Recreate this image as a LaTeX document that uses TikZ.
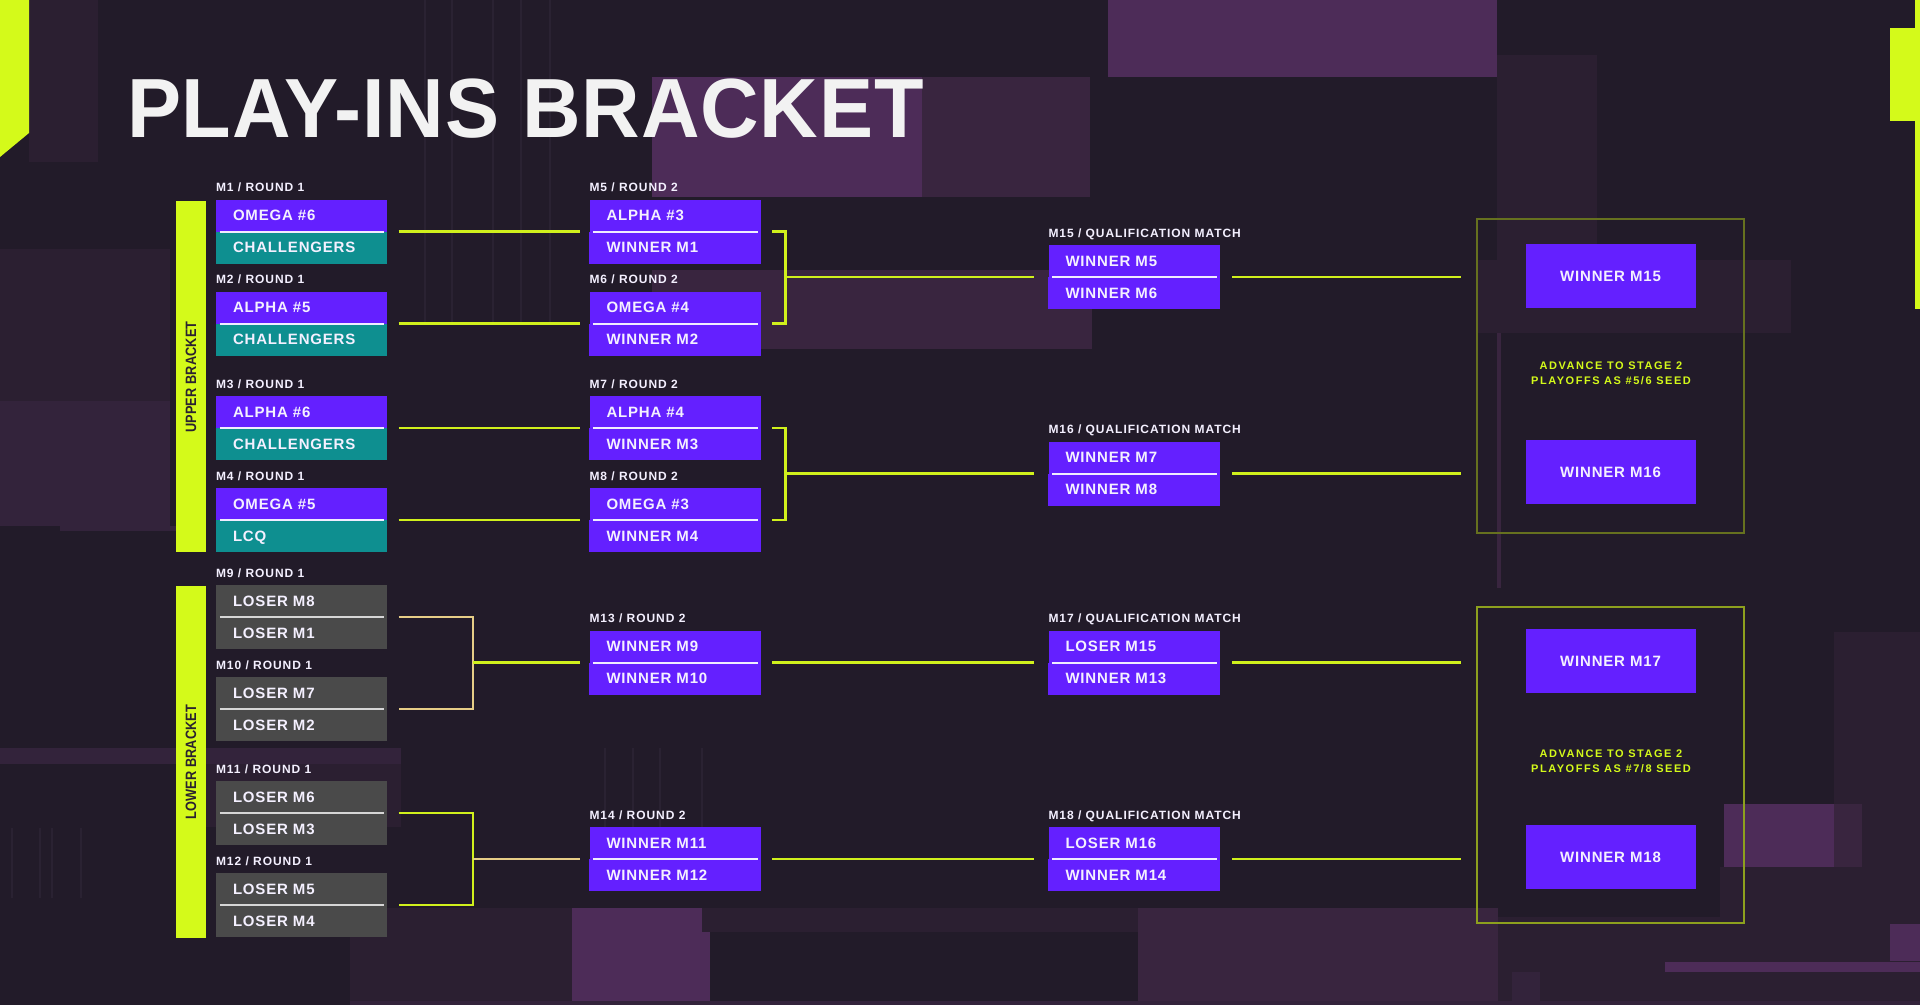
\documentclass[tikz,border=0pt]{standalone}
\usepackage{fontspec}
\setmainfont{Liberation Sans}
\newfontfamily\boxf{Liberation Sans}[LetterSpace=5.5]
\newfontfamily\lblf{Liberation Sans}[LetterSpace=8]
\newfontfamily\advf{Liberation Sans}[LetterSpace=14]
\newfontfamily\titlef{Liberation Sans}[LetterSpace=1]
\definecolor{bgc}{HTML}{221B29}
\definecolor{lime}{HTML}{D4FA1A}
\definecolor{linelime}{HTML}{D0F01C}
\definecolor{beige}{HTML}{E6CD86}
\definecolor{vio}{HTML}{6420FF}
\definecolor{tealb}{HTML}{0E8F90}
\definecolor{grayb}{HTML}{4A4A4A}
\definecolor{olivea}{HTML}{66711F}
\definecolor{oliveb}{HTML}{8DA01E}
\definecolor{pA}{HTML}{4D2C58}
\definecolor{pB}{HTML}{39253F}
\definecolor{pC}{HTML}{2B1F31}
\definecolor{pD}{HTML}{33233B}
\definecolor{pL}{HTML}{2A2232}
\definecolor{txt}{HTML}{F4F0FF}
\definecolor{titlec}{HTML}{F2F2F2}
\definecolor{bartxt}{HTML}{2A2230}
\definecolor{divw}{HTML}{F0ECFF}
\definecolor{divg}{HTML}{D6D6D6}
\tikzset{
  matchbox/.style={rectangle, minimum width=171pt, minimum height=64pt, inner sep=0pt, draw=none},
  finalbox/.style={rectangle, minimum width=170pt, minimum height=64pt, inner sep=0pt, fill=vio, text=txt, font=\boxf\bfseries\fontsize{15}{18}\selectfont},
  boxtext/.style={text=txt, font=\boxf\bfseries\fontsize{15}{18}\selectfont, inner sep=0pt, anchor=base west},
  lbl/.style={text=txt, font=\lblf\bfseries\fontsize{12}{14}\selectfont, inner sep=0pt, anchor=base west},
  advtext/.style={text=lime, font=\advf\bfseries\fontsize{11}{15}\selectfont, align=center, inner sep=0pt},
  conn/.style={line width=2.3pt, draw=linelime, line join=miter},
  connb/.style={line width=2.3pt, draw=beige, line join=miter},
  divline/.style={line width=2pt, line cap=butt},
  stagebox/.style={rectangle, inner sep=0pt, line width=2pt, fill=none},
  barbox/.style={rectangle, inner sep=0pt, fill=lime, minimum width=29.5pt},
  bartext/.style={text=bartxt, font=\titlef\bfseries\fontsize{15}{15}\selectfont, rotate=90, inner sep=0pt},
  faint/.style={line width=1.5pt, draw=pL}
}
\newcommand\matchM[8]{%
  \node[matchbox, fill=#6] (#1) at (#2) {};
  \fill[#7] (#1.west) rectangle (#1.south east);
  \draw[divline, draw=#8] ([xshift=4pt]#1.west) -- ([xshift=-3pt]#1.east);
  \node[lbl] (#1l) at ([yshift=7.5pt]#1.north west) {#3};
  \node[boxtext] (#1a) at ([xshift=17pt,yshift=10.6pt]#1.west) {#4};
  \node[boxtext] (#1b) at ([xshift=17pt,yshift=-21.4pt]#1.west) {#5};
}
\begin{document}
\begin{tikzpicture}[x=1pt,y=-1pt]
\useasboundingbox (0,0) rectangle (1920,1005);
\fill[bgc] (0,0) rectangle (1920,1005);
% background blocks
\fill[pC] (29,0) rectangle (98,162);
\fill[pA] (1108,0) rectangle (1497,77);
\fill[pA] (652,77) rectangle (922,197);
\fill[pB] (922,77) rectangle (1090,197);
\fill[pB] (652,270) rectangle (1092,349);
\fill[pC] (1497,55) rectangle (1597,332);
\fill[pC] (1477,260) rectangle (1791,333);
\fill[pC] (0,249) rectangle (170,401);
\fill[pD] (0,401) rectangle (170,526);
\fill[pD] (60,526) rectangle (176,531);
\fill[pD] (0,748) rectangle (401,764);
\fill[pC] (176,764) rectangle (401,827);
\fill[pC] (350,908) rectangle (572,1005);
\fill[pA] (572,908) rectangle (710,1001);
\fill[pC] (702,908) rectangle (1138,932);
\fill[pB] (1138,908) rectangle (1498,1005);
\fill[pC] (1498,917) rectangle (1920,1005);
\fill[pA] (1665,962) rectangle (1920,972);
\fill[pD] (1512,972) rectangle (1540,1005);
\fill[pD] (350,1001) rectangle (1920,1005);
\fill[pC] (1834,632) rectangle (1920,867);
\fill[pA] (1724,804) rectangle (1834,867);
\fill[pB] (1834,804) rectangle (1862,867);
\fill[pC] (1720,867) rectangle (1920,961);
\fill[pA] (1890,924) rectangle (1920,961);
\fill[pB] (1497,333) rectangle (1501,588);
\foreach \xx in {425,452,493,521,550} \draw[faint] (\xx,0) -- (\xx,323);
\foreach \xx in {605,633,660,702} \draw[faint] (\xx,748) -- (\xx,827);
\foreach \xx in {12,40,52,81} \draw[faint] (\xx,828) -- (\xx,898);
% lime accents
\fill[lime] (0,0) -- (29,0) -- (29,133) -- (0,157) -- cycle;
\fill[lime] (1890,28) rectangle (1920,121);
\fill[lime] (1915,0) rectangle (1920,309);
% title
\node[anchor=base west, inner sep=0pt, text=titlec, font=\titlef\bfseries\fontsize{84}{84}\selectfont] (title) at (127,137) {\scalebox{0.965}[1]{PLAY-INS BRACKET}};
% side bars
\node[barbox, minimum height=351.6pt] (upperbar) at (190.75,376.5) {};
\node[bartext] (upperlbl) at (191,377) {\scalebox{0.85}[1]{UPPER BRACKET}};
\node[barbox, minimum height=352pt] (lowerbar) at (190.75,761.5) {};
\node[bartext] (lowerlbl) at (191,762) {\scalebox{0.85}[1]{LOWER BRACKET}};
% round 1 upper
\matchM{m1}{301.5,231.5}{M1 / ROUND 1}{OMEGA \#6}{CHALLENGERS}{vio}{tealb}{divw}
\matchM{m2}{301.5,323.5}{M2 / ROUND 1}{ALPHA \#5}{CHALLENGERS}{vio}{tealb}{divw}
\matchM{m3}{301.5,427.7}{M3 / ROUND 1}{ALPHA \#6}{CHALLENGERS}{vio}{tealb}{divw}
\matchM{m4}{301.5,519.7}{M4 / ROUND 1}{OMEGA \#5}{LCQ}{vio}{tealb}{divw}
% round 2 upper
\matchM{m5}{675,231.5}{M5 / ROUND 2}{ALPHA \#3}{WINNER M1}{vio}{vio}{divw}
\matchM{m6}{675,323.5}{M6 / ROUND 2}{OMEGA \#4}{WINNER M2}{vio}{vio}{divw}
\matchM{m7}{675,427.7}{M7 / ROUND 2}{ALPHA \#4}{WINNER M3}{vio}{vio}{divw}
\matchM{m8}{675,519.7}{M8 / ROUND 2}{OMEGA \#3}{WINNER M4}{vio}{vio}{divw}
% round 1 lower
\matchM{m9}{301.5,616.7}{M9 / ROUND 1}{LOSER M8}{LOSER M1}{grayb}{grayb}{divg}
\matchM{m10}{301.5,709}{M10 / ROUND 1}{LOSER M7}{LOSER M2}{grayb}{grayb}{divg}
\matchM{m11}{301.5,813}{M11 / ROUND 1}{LOSER M6}{LOSER M3}{grayb}{grayb}{divg}
\matchM{m12}{301.5,905}{M12 / ROUND 1}{LOSER M5}{LOSER M4}{grayb}{grayb}{divg}
% round 2 lower
\matchM{m13}{675,662.5}{M13 / ROUND 2}{WINNER M9}{WINNER M10}{vio}{vio}{divw}
\matchM{m14}{675,859}{M14 / ROUND 2}{WINNER M11}{WINNER M12}{vio}{vio}{divw}
% qualification
\matchM{m15}{1134,277}{M15 / QUALIFICATION MATCH}{WINNER M5}{WINNER M6}{vio}{vio}{divw}
\matchM{m16}{1134,473.5}{M16 / QUALIFICATION MATCH}{WINNER M7}{WINNER M8}{vio}{vio}{divw}
\matchM{m17}{1134,662.5}{M17 / QUALIFICATION MATCH}{LOSER M15}{WINNER M13}{vio}{vio}{divw}
\matchM{m18}{1134,859}{M18 / QUALIFICATION MATCH}{LOSER M16}{WINNER M14}{vio}{vio}{divw}
% stage boxes
\node[stagebox, draw=olivea, minimum width=267pt, minimum height=314.5pt] (stage1) at (1610.5,375.75) {};
\node[stagebox, draw=oliveb, minimum width=267pt, minimum height=316.5pt] (stage2) at (1610.5,764.75) {};
\node[finalbox] (w15) at (1610.5,276) {WINNER M15};
\node[finalbox] (w16) at (1610.5,472) {WINNER M16};
\node[finalbox] (w17) at (1610.5,661) {WINNER M17};
\node[finalbox] (w18) at (1610.5,857) {WINNER M18};
\node[advtext] (adv1) at (1611,373.3) {ADVANCE TO STAGE 2\\PLAYOFFS AS \#5/6 SEED};
\node[advtext] (adv2) at (1611,761) {ADVANCE TO STAGE 2\\PLAYOFFS AS \#7/8 SEED};
% connectors round 1 -> round 2 (upper)
\draw[conn, shorten <=11.5pt, shorten >=9.5pt] (m1.east) -- (m5.west);
\draw[conn, shorten <=11.5pt, shorten >=9.5pt] (m2.east) -- (m6.west);
\draw[conn, shorten <=11.5pt, shorten >=9.5pt] (m3.east) -- (m7.west);
\draw[conn, shorten <=11.5pt, shorten >=9.5pt] (m4.east) -- (m8.west);
% brackets upper round 2 -> qualification
\coordinate (j1) at (785.5,277);
\coordinate (j2) at (785.5,473.5);
\draw[conn] ([xshift=11.5pt]m5.east) -| (j1) |- ([xshift=11.5pt]m6.east);
\draw[conn, shorten >=14.5pt] (j1) -- (m15.west);
\draw[conn] ([xshift=11.5pt]m7.east) -| (j2) |- ([xshift=11.5pt]m8.east);
\draw[conn, shorten >=14.5pt] (j2) -- (m16.west);
% brackets lower round 1 -> round 2
\coordinate (j3) at (473,662.5);
\coordinate (j4) at (473,859);
\draw[connb] ([xshift=11.5pt]m9.east) -| (j3) |- ([xshift=11.5pt]m10.east);
\draw[conn, shorten >=9.5pt] (j3) -- (m13.west);
\draw[conn] ([xshift=11.5pt]m11.east) -| (j4) |- ([xshift=11.5pt]m12.east);
\draw[connb, shorten >=9.5pt] (j4) -- (m14.west);
% lower round 2 -> qualification
\draw[conn, shorten <=11.5pt, shorten >=14.5pt] (m13.east) -- (m17.west);
\draw[conn, shorten <=11.5pt, shorten >=14.5pt] (m14.east) -- (m18.west);
% qualification -> stage 2 boxes
\draw[conn, shorten <=12.5pt, shorten >=15pt] (m15.east) -- (m15.east -| stage1.west);
\draw[conn, shorten <=12.5pt, shorten >=15pt] (m16.east) -- (m16.east -| stage1.west);
\draw[conn, shorten <=12.5pt, shorten >=15pt] (m17.east) -- (m17.east -| stage2.west);
\draw[conn, shorten <=12.5pt, shorten >=15pt] (m18.east) -- (m18.east -| stage2.west);
\end{tikzpicture}
\end{document}
